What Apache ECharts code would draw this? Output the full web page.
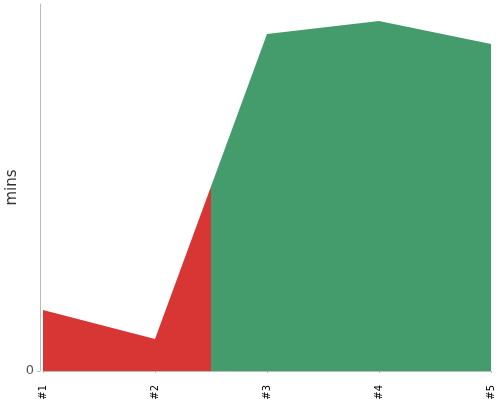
<!DOCTYPE html>
<html><head><meta charset="utf-8">
<script src="https://cdn.jsdelivr.net/npm/echarts@6/dist/echarts.min.js"></script>
<style>html,body{margin:0;padding:0;background:#fff}#c{width:500px;height:400px}</style>
</head><body><div id="c"></div>
<script>
var categories = ['#1', '#2', '#3', '#4', '#5'];
var values = [16.6, 8.7, 91.8, 95.4, 89.1];
var yTicks = [0];
var splitIndex = 1.5;

var RED = '#d83535', GREEN = '#449c6d';
var f = splitIndex / (categories.length - 1);
function split() {
  return new echarts.graphic.LinearGradient(0, 0, 1, 0, [
    {offset: 0, color: RED}, {offset: f, color: RED},
    {offset: f, color: GREEN}, {offset: 1, color: GREEN}
  ]);
}

var chart = echarts.init(document.getElementById('c'), null, {renderer: 'canvas'});
chart.setOption({
  animation: false,
  grid: {left: 43, right: 9, top: 4, bottom: 29, containLabel: false, outerBoundsMode: 'none'},
  xAxis: {
    type: 'category', data: categories, boundaryGap: false, offset: 4,
    axisLine: {lineStyle: {color: '#bbb'}},
    axisTick: {show: true, length: 2, lineStyle: {color: '#bbb'}},
    axisLabel: {rotate: 90, color: '#000', fontSize: 10, fontFamily: 'DejaVu Sans', margin: 10}
  },
  yAxis: {
    type: 'value', min: 0, max: 100, offset: 3,
    name: 'mins', nameLocation: 'middle', nameGap: 20, nameMoveOverlap: false,
    nameTextStyle: {fontSize: 15, color: '#333', fontFamily: 'DejaVu Sans'},
    splitLine: {show: false},
    axisLine: {show: true, lineStyle: {color: '#bbb'}},
    axisTick: {show: true, length: 3, customValues: yTicks, lineStyle: {color: '#bbb'}},
    axisLabel: {customValues: yTicks, color: '#555', fontSize: 13, fontFamily: 'DejaVu Sans', margin: 6}
  },
  series: [{
    type: 'line', data: values, showSymbol: false,
    lineStyle: {width: 0, color: split()},
    itemStyle: {color: GREEN},
    areaStyle: {opacity: 1, color: split()}
  }]
});
</script></body></html>
